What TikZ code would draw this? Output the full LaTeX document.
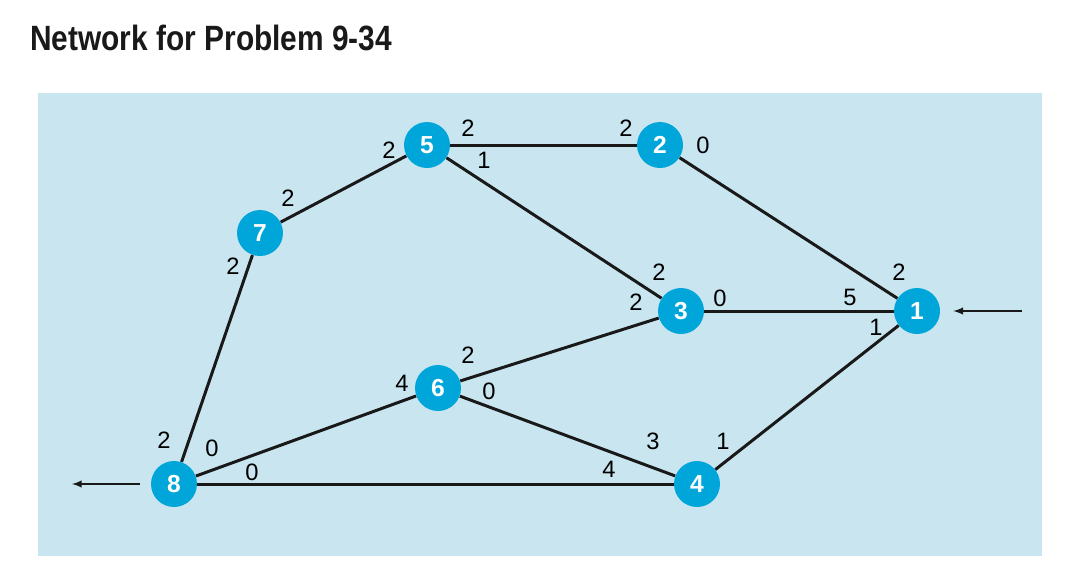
\documentclass[tikz,border=0pt]{standalone}
\usepackage{fontspec}
\setmainfont{Liberation Sans}
\usetikzlibrary{arrows}
\definecolor{nodeblue}{RGB}{0,166,217}
\definecolor{paleblue}{RGB}{201,230,240}

\begin{document}
\begin{tikzpicture}[
    x=0.02cm, y=-0.02cm,
    roundnode/.style={circle, fill=nodeblue, text=white, minimum size=9.2mm, inner sep=0pt, font=\fontsize{14}{16}\selectfont\bfseries},
    capnum/.style={inner sep=0pt, font=\fontsize{13.5}{16}\selectfont},
    arc/.style={line width=1.7pt, black!90},
    flow/.style={-latex, line width=0.9pt, black!90},
]
    \useasboundingbox (0,0) rectangle (1078,576);
    \fill[paleblue] (38,93) rectangle (1042,556);
    \node[anchor=base west, inner sep=0pt, xscale=0.85, font=\fontsize{20}{24}\selectfont\bfseries, text=black!90] (title) at (30,50) {Network for Problem 9-34};

    %node
    \node[roundnode] (5) at (427,145) {5};
    \node[roundnode] (2) at (660,145) {2};
    \node[roundnode] (7) at (260,233) {7};
    \node[roundnode] (3) at (681,311) {3};
    \node[roundnode] (1) at (917,311) {1};
    \node[roundnode] (6) at (438,388) {6};
    \node[roundnode] (8) at (174,484) {8};
    \node[roundnode] (4) at (697,484) {4};
    \coordinate (in) at (1022,311);
    \coordinate (out) at (72,484);

    %lines
    \draw[arc] (5) -- (2);
    \draw[arc] (5) -- (7);
    \draw[arc] (5) -- (3);
    \draw[arc] (2) -- (1);
    \draw[arc] (7) -- (8);
    \draw[arc] (3) -- (1);
    \draw[arc] (3) -- (6);
    \draw[arc] (1) -- (4);
    \draw[arc] (6) -- (8);
    \draw[arc] (6) -- (4);
    \draw[arc] (8) -- (4);
    \draw[flow, shorten >=0.26cm] (in) -- (1);
    \draw[flow, shorten <=0.22cm] (8) -- (out);

    %capacities
    \node[capnum] (c5a) at (389,150) {2};
    \node[capnum] (c5b) at (468,128) {2};
    \node[capnum] (c5c) at (484,160) {1};
    \node[capnum] (c2a) at (626,128) {2};
    \node[capnum] (c2b) at (703,145) {0};
    \node[capnum] (c7a) at (288,198) {2};
    \node[capnum] (c7b) at (233,266) {2};
    \node[capnum] (c3a) at (659,272) {2};
    \node[capnum] (c3b) at (636,302) {2};
    \node[capnum] (c3c) at (720,298) {0};
    \node[capnum] (c1a) at (899,272) {2};
    \node[capnum] (c1b) at (850,297) {5};
    \node[capnum] (c1c) at (876,327) {1};
    \node[capnum] (c6a) at (468,355) {2};
    \node[capnum] (c6b) at (402,383) {4};
    \node[capnum] (c6c) at (489,391) {0};
    \node[capnum] (c8a) at (164,440) {2};
    \node[capnum] (c8b) at (212,448) {0};
    \node[capnum] (c8c) at (252,472) {0};
    \node[capnum] (c4a) at (653,441) {3};
    \node[capnum] (c4b) at (609,469) {4};
    \node[capnum] (c4c) at (723,441) {1};
\end{tikzpicture}
\end{document}
